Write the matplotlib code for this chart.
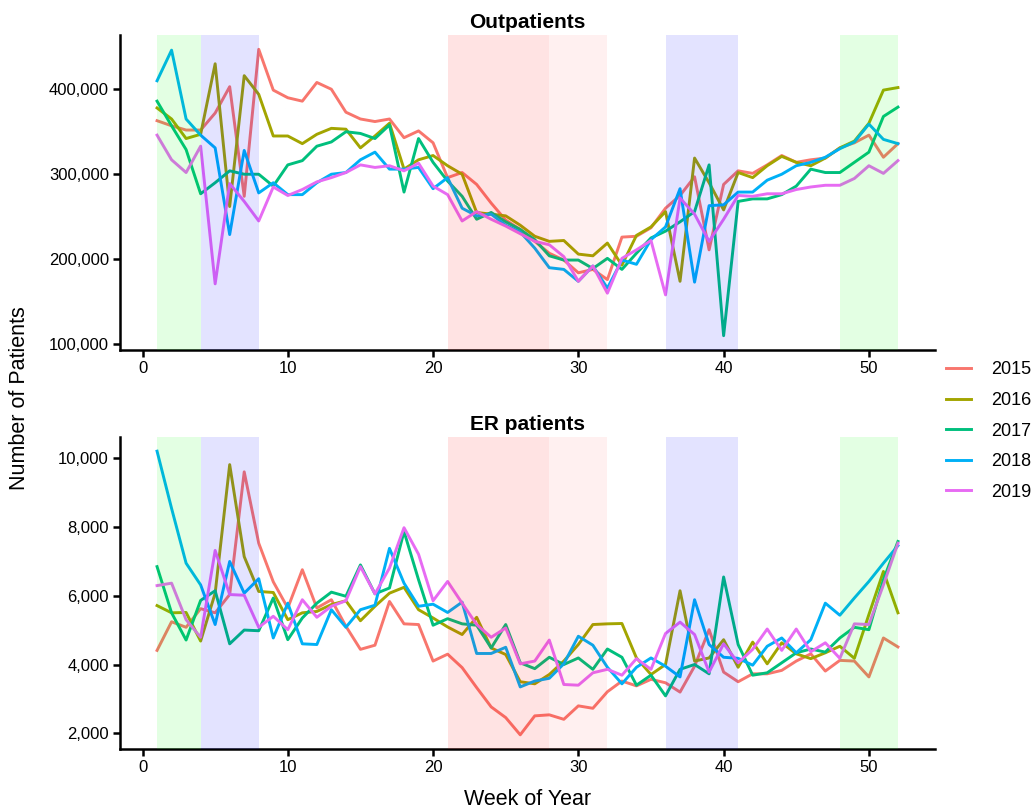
import matplotlib
matplotlib.use("Agg")
import matplotlib.pyplot as plt
from matplotlib.ticker import FuncFormatter, MultipleLocator
from matplotlib.lines import Line2D

plt.rcParams['font.family'] = ['Liberation Sans', 'DejaVu Sans']

weeks = list(range(1, 53))
years = ["2015", "2016", "2017", "2018", "2019"]
colors = ["#F8766D", "#A3A500", "#00BF7D", "#00B0F6", "#E76BF3"]

# Outpatients (thousands)
out_2015 = [363, 357, 352, 352, 372, 403, 274, 447, 399, 390,
            386, 408, 400, 373, 365, 362, 365, 343, 351, 337,
            296, 302, 288, 266, 246, 235, 221, 207, 199, 184,
            188, 176, 226, 227, 237, 260, 275, 297, 211, 288,
            304, 301, 311, 322, 314, 317, 319, 331, 337, 346,
            320, 336]
out_2016 = [378, 365, 342, 347, 430, 262, 416, 394, 345, 345,
            336, 347, 354, 353, 331, 345, 360, 306, 317, 322,
            310, 300, 255, 253, 251, 240, 227, 221, 222, 206,
            204, 219, 193, 228, 238, 256, 174, 319, 290, 258,
            302, 296, 310, 321, 314, 310, 319, 331, 339, 360,
            399, 402]
out_2017 = [386, 357, 329, 277, 290, 304, 300, 300, 286, 311,
            316, 333, 338, 350, 348, 342, 358, 279, 342, 314,
            292, 274, 247, 255, 244, 235, 223, 204, 199, 199,
            189, 201, 188, 207, 225, 233, 244, 256, 311, 110,
            268, 271, 271, 276, 286, 306, 302, 302, 314, 326,
            368, 379]
out_2018 = [410, 446, 365, 346, 331, 229, 328, 278, 290, 276,
            276, 290, 300, 302, 317, 326, 306, 306, 308, 283,
            296, 260, 251, 253, 240, 232, 213, 190, 188, 174,
            192, 166, 199, 194, 223, 238, 283, 173, 263, 264,
            279, 279, 293, 300, 310, 314, 320, 330, 338, 359,
            341, 336]
out_2019 = [346, 317, 302, 333, 171, 289, 268, 245, 285, 275,
            282, 291, 296, 302, 311, 308, 310, 304, 313, 286,
            276, 245, 256, 247, 239, 230, 221, 217, 203, 174,
            192, 160, 201, 211, 222, 158, 272, 253, 221, 247,
            275, 274, 277, 277, 282, 285, 287, 287, 295, 310,
            301, 316]

# ER patients (thousands)
er_2015 = [4.41, 5.24, 5.08, 5.62, 5.50, 6.03, 9.59, 7.52, 6.40, 5.64,
           6.75, 5.64, 5.88, 5.11, 4.44, 4.56, 5.83, 5.18, 5.16, 4.10,
           4.30, 3.91, 3.33, 2.77, 2.46, 1.96, 2.51, 2.54, 2.41, 2.80,
           2.73, 3.21, 3.52, 3.38, 3.57, 3.47, 3.20, 3.95, 5.01, 3.78,
           3.50, 3.73, 3.73, 3.83, 4.10, 4.31, 3.81, 4.12, 4.10, 3.64,
           4.77, 4.51]
er_2016 = [5.71, 5.50, 5.51, 4.68, 6.07, 9.80, 7.13, 6.12, 6.09, 5.30,
           5.50, 5.54, 5.74, 5.85, 5.27, 5.69, 6.07, 6.24, 5.59, 5.35,
           5.09, 4.87, 5.37, 4.48, 4.29, 3.50, 3.44, 3.71, 4.10, 4.58,
           5.16, 5.18, 5.19, 4.19, 3.71, 4.00, 6.14, 4.10, 4.19, 4.72,
           3.92, 4.65, 4.02, 4.63, 4.31, 4.17, 4.34, 4.53, 4.18, 5.45,
           6.70, 5.50]
er_2017 = [6.84, 5.50, 4.71, 5.86, 6.14, 4.60, 5.00, 4.98, 5.93, 4.72,
           5.35, 5.78, 6.10, 5.98, 6.89, 6.05, 6.22, 7.86, 6.46, 5.14,
           5.33, 5.18, 5.14, 4.48, 5.16, 4.05, 3.88, 4.21, 4.00, 4.19,
           3.86, 4.45, 4.21, 3.40, 3.69, 3.09, 3.86, 4.00, 3.73, 6.54,
           4.58, 3.69, 3.76, 4.05, 4.34, 4.45, 4.36, 4.77, 5.08, 5.01,
           6.46, 7.57]
er_2018 = [10.19, 8.53, 6.94, 6.31, 5.16, 6.99, 6.07, 6.49, 4.77, 5.78,
           4.60, 4.58, 5.59, 5.08, 5.59, 5.72, 7.37, 6.36, 5.69, 5.75,
           5.51, 5.81, 4.32, 4.32, 4.50, 3.35, 3.52, 3.60, 4.02, 4.82,
           4.56, 3.92, 3.44, 3.92, 4.19, 3.95, 3.64, 5.88, 4.58, 4.21,
           4.18, 3.98, 4.53, 4.77, 4.34, 4.72, 5.78, 5.43, 5.93, 6.41,
           6.94, 7.45]
er_2019 = [6.29, 6.36, 5.30, 4.79, 7.31, 6.03, 6.01, 5.08, 5.40, 5.01,
           5.88, 5.37, 5.69, 5.85, 6.84, 6.05, 6.80, 7.97, 7.20, 5.85,
           6.41, 5.78, 5.16, 4.79, 5.06, 4.02, 4.10, 4.71, 3.42, 3.40,
           3.76, 3.86, 3.69, 4.17, 3.86, 4.90, 5.23, 4.87, 3.78, 4.60,
           4.05, 4.44, 5.03, 4.41, 5.03, 4.37, 4.63, 4.18, 5.18, 5.16,
           6.31, 7.52]

out_series = [out_2015, out_2016, out_2017, out_2018, out_2019]
er_series = [er_2015, er_2016, er_2017, er_2018, er_2019]

# Shaded periods (week start, week end, colour, alpha)
band_start = [1, 4, 21, 28, 36, 48]
band_end = [4, 8, 28, 32, 41, 52]
band_color = ["#00FF00", "#0000FF", "#FF0000", "#FF0000", "#0000FF", "#00FF00"]
band_alpha = [0.11, 0.11, 0.11, 0.06, 0.11, 0.11]

W, H = 1035, 809
fig = plt.figure(figsize=(W / 100, H / 100), dpi=100)
ax1 = fig.add_axes([120 / W, 1 - 350 / H, 815 / W, 315 / H])
ax2 = fig.add_axes([120 / W, 1 - 749 / H, 815 / W, 312 / H])

LW = 2.1


def style(ax, title, series, scale, yticks):
    for vals, c in zip(series, colors):
        ax.plot(weeks, [v * scale for v in vals], color=c, lw=LW, zorder=2)
    for s, e, c, a in zip(band_start, band_end, band_color, band_alpha):
        ax.axvspan(s, e, color=c, alpha=a, lw=0, zorder=3)
    allv = [v * scale for vals in series for v in vals]
    lo, hi = min(allv), max(allv)
    r = hi - lo
    ax.set_ylim(lo - 0.05 * r, hi + 0.05 * r)
    ax.set_xlim(1 - 0.05 * 51, 52 + 0.05 * 51)
    ax.set_yticks(yticks)
    ax.xaxis.set_major_locator(MultipleLocator(10))
    ax.yaxis.set_major_formatter(FuncFormatter(lambda v, p: f"{v:,.0f}"))
    for sp in ["top", "right"]:
        ax.spines[sp].set_visible(False)
    for sp in ["left", "bottom"]:
        ax.spines[sp].set_linewidth(1.8)
        ax.spines[sp].set_color("black")
    ax.tick_params(axis="both", length=5, width=1.8, color="black",
                   labelsize=12, labelcolor="black", pad=3)
    ax.set_title(title, fontsize=15, fontweight="bold", pad=5)


style(ax1, "Outpatients", out_series, 1000, [100000, 200000, 300000, 400000])
style(ax2, "ER patients", er_series, 1000, [2000, 4000, 6000, 8000, 10000])

ax2.set_xlabel("Week of Year", fontsize=15.5, labelpad=10)
fig.text(20 / W, 1 - 398 / H, "Number of Patients", rotation=90,
         fontsize=15.5, ha="center", va="center")

handles = [Line2D([0], [0], color=c, lw=LW) for c in colors]
fig.legend(handles, years, loc="center left", bbox_to_anchor=(946 / W, 1 - 431 / H),
           frameon=False, fontsize=13, handlelength=1.4, labelspacing=0.75,
           handletextpad=1.1, borderpad=0, borderaxespad=0)

fig.savefig("out.png", dpi=100)
